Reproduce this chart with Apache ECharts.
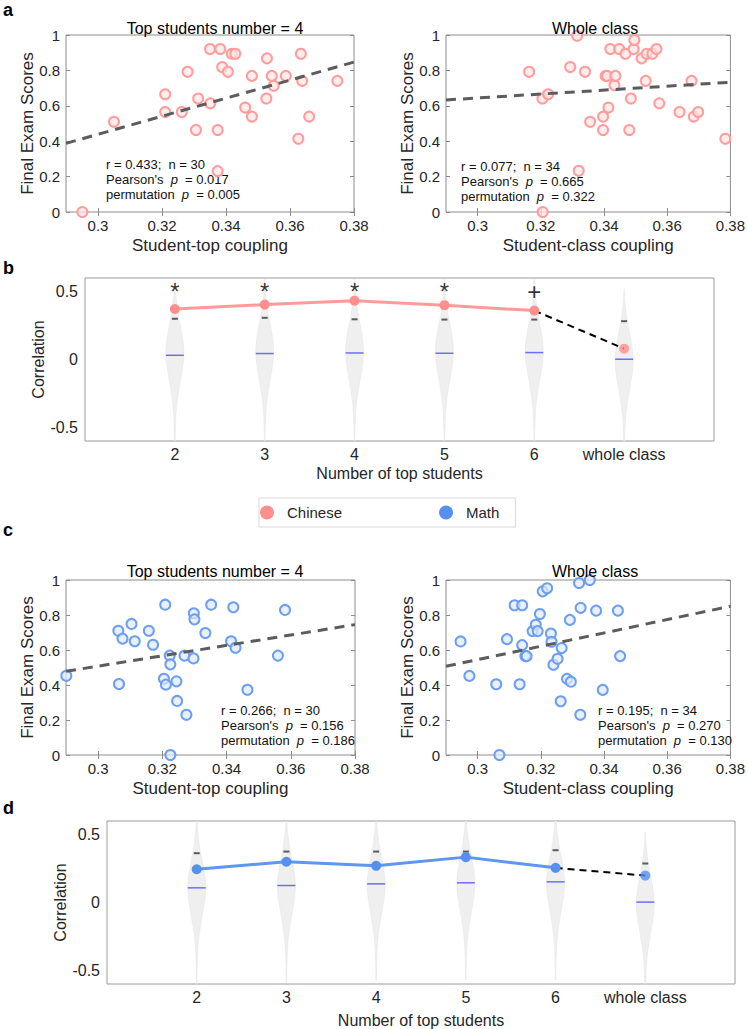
<!DOCTYPE html>
<html>
<head>
<meta charset="utf-8">
<script src="https://cdn.jsdelivr.net/npm/echarts@6.0.0/dist/echarts.min.js"></script>
<style>
html, body { margin: 0; padding: 0; background: #fff; }
#chart { width: 748px; height: 1029px; }
</style>
</head>
<body>
<div id="chart"></div>
<script>
// ---- panel a: Chinese, coupling vs final exam score ----
const chnTopX = [0.2951, 0.3050, 0.3210, 0.3210, 0.3262, 0.3280, 0.3306, 0.3313, 0.3350, 0.3351,
  0.3374, 0.3374, 0.3382, 0.3388, 0.3406, 0.3418, 0.3429, 0.3460, 0.3481, 0.3481,
  0.3526, 0.3528, 0.3543, 0.3549, 0.3587, 0.3626, 0.3634, 0.3638, 0.3660, 0.3748];
const chnTopY = [0, 0.510, 0.665, 0.565, 0.565, 0.792, 0.463, 0.641, 0.921, 0.614,
  0.463, 0.231, 0.921, 0.819, 0.792, 0.894, 0.894, 0.590, 0.769, 0.539,
  0.641, 0.868, 0.769, 0.713, 0.769, 0.414, 0.894, 0.741, 0.539, 0.741];
const chnTopFit = [[0.29, 0.388], [0.38, 0.847]];
const chnTopStats = ['r = 0.433;  n = 30', "Pearson's  {i|p}  = 0.017", 'permutation  {i|p}  = 0.005'];

const chnClassX = [0.3163, 0.3205, 0.3223, 0.3206, 0.3293, 0.3315, 0.3320, 0.3340, 0.3356, 0.3397,
  0.3397, 0.3405, 0.3410, 0.3414, 0.3420, 0.3433, 0.3436, 0.3448, 0.3468, 0.3480,
  0.3485, 0.3494, 0.3496, 0.3519, 0.3532, 0.3535, 0.3553, 0.3566, 0.3575, 0.3639,
  0.3677, 0.3684, 0.3698, 0.3784];
const chnClassY = [0.792, 0.641, 0.665, 0, 0.819, 0.996, 0.233, 0.792, 0.510, 0.539,
  0.463, 0.769, 0.769, 0.590, 0.921, 0.716, 0.769, 0.921, 0.894, 0.463,
  0.641, 0.921, 0.972, 0.868, 0.741, 0.894, 0.894, 0.921, 0.614, 0.565,
  0.741, 0.539, 0.565, 0.414];
const chnClassFit = [[0.29, 0.633], [0.38, 0.733]];
const chnClassStats = ['r = 0.077;  n = 34', "Pearson's  {i|p}  = 0.665", 'permutation  {i|p}  = 0.322'];

// ---- panel c: Math ----
const mathTopX = [0.2901, 0.3063, 0.3065, 0.3076, 0.3104, 0.3114, 0.3158, 0.3171, 0.3205, 0.3209,
  0.3211, 0.3223, 0.3225, 0.3225, 0.3244, 0.3246, 0.3269, 0.3275, 0.3297, 0.3298,
  0.3300, 0.3334, 0.3352, 0.3414, 0.3421, 0.3428, 0.3465, 0.3560, 0.3582];
const mathTopY = [0.453, 0.710, 0.406, 0.665, 0.749, 0.650, 0.710, 0.630, 0.436, 0.859,
  0.402, 0.568, 0.518, 0, 0.421, 0.309, 0.568, 0.230, 0.552, 0.810,
  0.775, 0.697, 0.859, 0.650, 0.844, 0.613, 0.373, 0.568, 0.829];
const mathTopFit = [[0.29, 0.478], [0.38, 0.745]];
const mathTopStats = ['r = 0.266;  n = 30', "Pearson's  {i|p}  = 0.156", 'permutation  {i|p}  = 0.186'];

const mathClassX = [0.2946, 0.2974, 0.3059, 0.3069, 0.3093, 0.3117, 0.3133, 0.3141, 0.3141, 0.3151,
  0.3155, 0.3174, 0.3184, 0.3190, 0.3197, 0.3206, 0.3220, 0.3232, 0.3234, 0.3240,
  0.3253, 0.3263, 0.3266, 0.3283, 0.3292, 0.3295, 0.3321, 0.3325, 0.3326, 0.3355,
  0.3375, 0.3396, 0.3444, 0.3451];
const mathClassY = [0.649, 0.452, 0.404, 0, 0.662, 0.856, 0.404, 0.856, 0.628, 0.565,
  0.565, 0.708, 0.744, 0.708, 0.806, 0.935, 0.953, 0.694, 0.647, 0.516,
  0.550, 0.307, 0.611, 0.435, 0.772, 0.419, 0.983, 0.230, 0.841, 1.0,
  0.825, 0.372, 0.825, 0.565];
const mathClassFit = [[0.29, 0.507], [0.38, 0.850]];
const mathClassStats = ['r = 0.195;  n = 34', "Pearson's  {i|p}  = 0.270", 'permutation  {i|p}  = 0.130'];

const couplingTicks = [0.3, 0.32, 0.34, 0.36, 0.38];

// ---- panels b and d: correlation vs number of top students ----
const numCats = ['2', '3', '4', '5', '6', 'whole class'];
const numX = [2, 3, 4, 5, 6, 7];
const chnR = [0.372, 0.404, 0.433, 0.400, 0.360, 0.080];
const chnNullMed = [0.031, 0.044, 0.048, 0.046, 0.051, 0.002];
const chnNull95 = [0.300, 0.307, 0.296, 0.294, 0.294, 0.282];
const chnViolinMid = [0.06, 0.07, 0.07, 0.07, 0.07, 0.0];
const sigMarks = ['*', '*', '*', '*', '+', ''];

const mathR = [0.245, 0.300, 0.270, 0.334, 0.255, 0.198];
const mathNullMed = [0.108, 0.125, 0.137, 0.145, 0.152, 0.003];
const mathNull95 = [0.363, 0.375, 0.375, 0.375, 0.385, 0.287];
const mathViolinMid = [0.12, 0.13, 0.14, 0.15, 0.15, 0.0];

// violin outline: offset from the widest point, and half width (x units)
const violinRelY = [0.52, 0.45, 0.4, 0.3, 0.25, 0.2, 0.1, 0, -0.1, -0.2, -0.3, -0.4, -0.5, -0.6, -0.72];
const violinHalfW = [0.002, 0.006, 0.012, 0.03, 0.042, 0.058, 0.085, 0.1, 0.09, 0.065, 0.04, 0.02, 0.01, 0.005, 0.002];

const corrTicks = [-0.5, 0, 0.5];

const pink = '#ff9a9a';
const pinkDot = '#ff8e8e';
const blue = '#5e96f0';
const blueDot = '#5590f0';
const boxColor = '#8c8c8c';
const txt = '#262626';
const font = "'Liberation Sans', Arial, Helvetica, sans-serif";

const grids = [];
const xAxes = [];
const yAxes = [];
const series = [];

function zip(xs, ys) {
  return xs.map((x, i) => [x, ys[i]]);
}

function scatterPanel(rect, xName, xs, ys, fit, name, edge, fill) {
  const gi = grids.length;
  grids.push(Object.assign({ show: true, borderColor: boxColor, borderWidth: 1 }, rect));
  const xi = xAxes.length;
  const tick = { inside: true, length: 4, lineStyle: { color: boxColor }, customValues: couplingTicks };
  xAxes.push({
    gridIndex: gi, type: 'value', min: 0.29, max: 0.38, position: 'bottom',
    axisLine: { show: false }, splitLine: { show: false }, axisTick: tick,
    axisLabel: { customValues: couplingTicks, fontSize: 15, color: txt, margin: 6, fontFamily: font },
    name: xName, nameLocation: 'middle', nameGap: 25, nameMoveOverlap: false,
    nameTextStyle: { fontSize: 17, color: txt, fontFamily: font }
  });
  xAxes.push({
    gridIndex: gi, type: 'value', min: 0.29, max: 0.38, position: 'top',
    axisLine: { show: false }, splitLine: { show: false }, axisTick: tick, axisLabel: { show: false }
  });
  const yi = yAxes.length;
  const ytick = { inside: true, length: 4, lineStyle: { color: boxColor } };
  yAxes.push({
    gridIndex: gi, type: 'value', min: 0, max: 1, interval: 0.2, position: 'left',
    axisLine: { show: false }, splitLine: { show: false }, axisTick: ytick,
    axisLabel: { fontSize: 15, color: txt, margin: 6, fontFamily: font },
    name: 'Final Exam Scores', nameLocation: 'middle', nameRotate: 90, nameGap: 30,
    nameMoveOverlap: false,
    nameTextStyle: { fontSize: 17, color: txt, fontFamily: font }
  });
  yAxes.push({
    gridIndex: gi, type: 'value', min: 0, max: 1, interval: 0.2, position: 'right',
    axisLine: { show: false }, splitLine: { show: false }, axisTick: ytick, axisLabel: { show: false }
  });
  series.push({
    type: 'scatter', name: name, xAxisIndex: xi, yAxisIndex: yi, data: zip(xs, ys),
    symbol: 'circle', symbolSize: 10, z: 2,
    itemStyle: { color: fill, borderColor: edge, borderWidth: 2, opacity: 1 }
  });
  series.push({
    type: 'line', xAxisIndex: xi, yAxisIndex: yi, data: fit, symbol: 'none', z: 3, silent: true,
    lineStyle: { color: '#5c5c5c', width: 3, type: [10, 7] }
  });
}

function violinSeries(xi, yi, mids, meds, p95) {
  return {
    type: 'custom', xAxisIndex: xi, yAxisIndex: yi, silent: true, z: 1,
    data: numX.map((x, i) => [x, mids[i], meds[i], p95[i]]),
    renderItem(params, api) {
      const x = api.value(0);
      const mid = api.value(1);
      const right = [];
      const left = [];
      for (let k = 0; k < violinRelY.length; k++) {
        right.push(api.coord([x + violinHalfW[k], mid + violinRelY[k]]));
        left.push(api.coord([x - violinHalfW[k], mid + violinRelY[k]]));
      }
      const pts = echarts.graphic.clipPointsByRect(right.concat(left.reverse()), params.coordSys);
      const m1 = api.coord([x - 0.1, api.value(2)]);
      const m2 = api.coord([x + 0.1, api.value(2)]);
      const p = api.coord([x, api.value(3)]);
      return {
        type: 'group',
        children: [
          { type: 'polygon', shape: { points: pts, smooth: 0.3 }, style: { fill: '#efefef', stroke: '#e6e6e6', lineWidth: 0.6 } },
          { type: 'line', shape: { x1: m1[0], y1: m1[1], x2: m2[0], y2: m2[1] }, style: { stroke: '#6d6dff', lineWidth: 1.5 } },
          { type: 'line', shape: { x1: p[0] - 3, y1: p[1], x2: p[0] + 3, y2: p[1] }, style: { stroke: '#5a5a5a', lineWidth: 2 } }
        ]
      };
    }
  };
}

function corrPanel(rect, name, r, mids, meds, p95, lineColor, dotColor, marks, nameGapX) {
  const gi = grids.length;
  grids.push(Object.assign({ show: true, borderColor: '#9a9a9a', borderWidth: 1 }, rect));
  const xi = xAxes.length;
  xAxes.push({
    gridIndex: gi, type: 'value', min: 1, max: 8, position: 'bottom',
    axisLine: { show: false }, splitLine: { show: false }, axisTick: { show: false },
    axisLabel: {
      customValues: numX, fontSize: 16, color: txt, margin: 5, fontFamily: font,
      formatter: v => numCats[numX.indexOf(v)]
    },
    name: 'Number of top students', nameLocation: 'middle', nameGap: nameGapX, nameMoveOverlap: false,
    nameTextStyle: { fontSize: 16, color: txt, fontFamily: font }
  });
  const yi = yAxes.length;
  yAxes.push({
    gridIndex: gi, type: 'value', min: -0.6, max: 0.6, position: 'left',
    axisLine: { show: false }, splitLine: { show: false }, axisTick: { show: false },
    axisLabel: { customValues: corrTicks, fontSize: 16, color: txt, margin: 7, fontFamily: font },
    name: 'Correlation', nameLocation: 'middle', nameRotate: 90, nameGap: 39, nameMoveOverlap: false,
    nameTextStyle: { fontSize: 16, color: txt, fontFamily: font }
  });
  series.push(violinSeries(xi, yi, mids, meds, p95));
  series.push({
    type: 'line', name: name, xAxisIndex: xi, yAxisIndex: yi, z: 3,
    data: zip(numX.slice(0, 5), r.slice(0, 5)),
    symbol: 'circle', symbolSize: 10, lineStyle: { color: lineColor, width: 3 },
    itemStyle: { color: dotColor }
  });
  series.push({
    type: 'line', xAxisIndex: xi, yAxisIndex: yi, z: 3, silent: true,
    data: [[numX[4], r[4]], [numX[5], r[5]]], symbol: 'none',
    lineStyle: { color: '#000', width: 2, type: [7, 5] }
  });
  series.push({
    type: 'scatter', name: name, xAxisIndex: xi, yAxisIndex: yi, z: 4,
    data: [[numX[5], r[5]]], symbol: 'circle', symbolSize: 10, itemStyle: { color: dotColor }
  });
  if (marks) {
    series.push({
      type: 'scatter', xAxisIndex: xi, yAxisIndex: yi, z: 4, silent: true, symbolSize: 0,
      data: numX.map((x, i) => [x, 0.5, marks[i]]),
      label: {
        show: true, position: 'inside', formatter: p => p.value[2],
        fontSize: 24, color: '#000', fontFamily: font
      }
    });
  }
}

scatterPanel({ left: 66, top: 35, width: 288, height: 177 }, 'Student-top coupling',
  chnTopX, chnTopY, chnTopFit, 'Chinese', '#ff9c9c', 'rgba(255,228,228,0.7)');
scatterPanel({ left: 446, top: 35, width: 289, height: 177 }, 'Student-class coupling',
  chnClassX, chnClassY, chnClassFit, 'Chinese', '#ff9c9c', 'rgba(255,228,228,0.7)');
corrPanel({ left: 85, top: 278, width: 629, height: 163 }, 'Chinese',
  chnR, chnViolinMid, chnNullMed, chnNull95, pink, pinkDot, sigMarks, 24);
scatterPanel({ left: 66, top: 580, width: 289, height: 175 }, 'Student-top coupling',
  mathTopX, mathTopY, mathTopFit, 'Math', '#6d9ef2', 'rgba(222,233,252,0.7)');
scatterPanel({ left: 446, top: 580, width: 289, height: 175 }, 'Student-class coupling',
  mathClassX, mathClassY, mathClassFit, 'Math', '#6d9ef2', 'rgba(222,233,252,0.7)');
corrPanel({ left: 107, top: 821, width: 628, height: 163 }, 'Math',
  mathR, mathViolinMid, mathNullMed, mathNull95, blue, blueDot, null, 28);

function statsText(x, y, lines) {
  return lines.map((t, i) => ({
    type: 'text', left: x, top: y + i * 15, silent: true,
    style: {
      text: t, fill: '#111', font: '13px ' + font,
      rich: { i: { fontStyle: 'italic', fontSize: 13, fontFamily: font, fill: '#111' } }
    }
  }));
}

function letter(t, y) {
  return { type: 'text', left: 3, top: y, silent: true, style: { text: t, fill: '#000', font: 'bold 18px ' + font } };
}

const titleStyle = { fontSize: 16, fontWeight: 'normal', color: '#000', fontFamily: font };

const option = {
  backgroundColor: '#fff',
  animation: false,
  grid: grids,
  xAxis: xAxes,
  yAxis: yAxes,
  series: series,
  title: [
    { text: 'Top students number = 4', left: 210, top: 15, textAlign: 'center', textStyle: titleStyle },
    { text: 'Whole class', left: 590, top: 15, textAlign: 'center', textStyle: titleStyle },
    { text: 'Top students number = 4', left: 210, top: 558, textAlign: 'center', textStyle: titleStyle },
    { text: 'Whole class', left: 590, top: 558, textAlign: 'center', textStyle: titleStyle }
  ],
  legend: {
    left: 259, top: 498,
    data: [
      { name: 'Chinese', itemStyle: { color: pinkDot, borderWidth: 0 } },
      { name: 'Math', itemStyle: { color: blueDot, borderWidth: 0 } }
    ],
    icon: 'circle', itemWidth: 30, itemHeight: 14, itemGap: 97,
    padding: [7, 16, 7, 1], borderColor: '#d9d9d9', borderWidth: 1,
    textStyle: { fontSize: 15, color: txt, fontFamily: font },
    selectedMode: false
  },
  graphic: [
    letter('a', 1), letter('b', 259), letter('c', 521), letter('d', 799)
  ].concat(
    statsText(106, 158, chnTopStats),
    statsText(461, 160, chnClassStats),
    statsText(221, 704, mathTopStats),
    statsText(598, 704, mathClassStats)
  )
};

const chart = echarts.init(document.getElementById('chart'), null, { renderer: 'svg' });
chart.setOption(option);
</script>
</body>
</html>
